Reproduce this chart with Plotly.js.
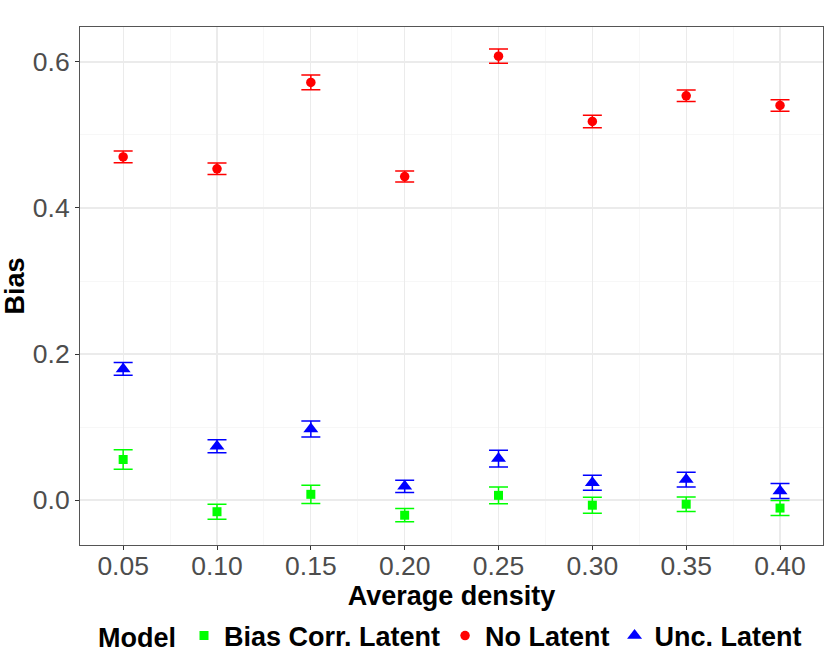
<!DOCTYPE html>
<html>
<head>
<meta charset="utf-8">
<script src="https://cdn.plot.ly/plotly-3.0.1.min.js"></script>
<style>html,body{margin:0;padding:0;background:#fff;}#chart{width:830px;height:664px;}</style>
</head>
<body>
<div id="chart"></div>
<script>
var density = [0.05, 0.10, 0.15, 0.20, 0.25, 0.30, 0.35, 0.40];
var xTickLabels = ["0.05", "0.10", "0.15", "0.20", "0.25", "0.30", "0.35", "0.40"];
var yTickVals = [0.0, 0.2, 0.4, 0.6];
var yTickLabels = ["0.0", "0.2", "0.4", "0.6"];

var biasCorrLatent = [0.0555, -0.016, 0.0078, -0.0208, 0.0064, -0.0071, -0.0057, -0.011];
var biasCorrLatentErr = [0.0132, 0.0103, 0.0126, 0.0091, 0.0116, 0.011, 0.010, 0.0103];

var noLatent = [0.470, 0.4537, 0.572, 0.443, 0.608, 0.5185, 0.5537, 0.5404];
var noLatentErr = [0.008, 0.008, 0.010, 0.0075, 0.0096, 0.0085, 0.008, 0.008];

var uncLatent = [0.1795, 0.0736, 0.0973, 0.0187, 0.0568, 0.0237, 0.028, 0.0123];
var uncLatentErr = [0.0087, 0.009, 0.011, 0.0084, 0.0114, 0.0103, 0.010, 0.0103];

var seriesNames = ["Bias Corr. Latent", "No Latent", "Unc. Latent"];

var FONT = "Liberation Sans, Arial, Helvetica, sans-serif";

function mk(name, y, err, color, symbol, size) {
  return {
    type: "scatter", mode: "markers", name: "<b>" + name + "</b>",
    x: density, y: y,
    marker: {color: color, symbol: symbol, size: size, line: {width: 0}},
    error_y: {type: "data", array: err, visible: true, color: color, thickness: 1.5, width: 9.5}
  };
}

var data = [
  mk(seriesNames[0], biasCorrLatent, biasCorrLatentErr, "#00FF00", "square", 9),
  mk(seriesNames[1], noLatent, noLatentErr, "#FF0000", "circle", 9.5),
  mk(seriesNames[2], uncLatent, uncLatentErr, "#0000FF", "triangle-up", 13)
];

var layout = {
  width: 830, height: 664,
  margin: {l: 79.5, r: 6.7, t: 26.7, b: 118.7, pad: 0, autoexpand: false},
  paper_bgcolor: "#fff", plot_bgcolor: "#fff",
  font: {family: FONT, color: "#000"},
  showlegend: true,
  xaxis: {
    range: [0.0270, 0.4229], automargin: false,
    tickvals: density, ticktext: xTickLabels,
    showgrid: true, gridcolor: "#EBEBEB", gridwidth: 1.1,
    minor: {dtick: 0.025, tick0: 0.025, showgrid: true, gridcolor: "#F2F2F2", gridwidth: 0.6, ticks: ""},
    ticks: "outside", ticklen: 4, tickcolor: "#333", tickwidth: 1,
    ticklabelstandoff: -7,
    tickfont: {family: FONT, size: 26.5, color: "#4D4D4D"},
    showline: true, linecolor: "#555", linewidth: 1, mirror: true,
    zeroline: false,
    title: {text: "<b>Average density</b>", font: {family: FONT, size: 27, color: "#000"}, standoff: 0}
  },
  yaxis: {
    range: [-0.0616, 0.6479], automargin: false,
    tickvals: yTickVals, ticktext: yTickLabels,
    showgrid: true, gridcolor: "#EBEBEB", gridwidth: 1.1,
    minor: {dtick: 0.1, tick0: 0.1, showgrid: true, gridcolor: "#F2F2F2", gridwidth: 0.6, ticks: ""},
    ticks: "outside", ticklen: 4, tickcolor: "#333", tickwidth: 1,
    tickfont: {family: FONT, size: 26.5, color: "#4D4D4D"},
    showline: true, linecolor: "#555", linewidth: 1, mirror: true,
    zeroline: false,
    title: {text: "<b>Bias</b>", font: {family: FONT, size: 27, color: "#000"}, standoff: 8}
  },
  legend: {
    orientation: "h", x: 0.5, xanchor: "center",
    yref: "container", y: 0.079, yanchor: "top",
    font: {family: FONT, size: 27, color: "#000"},
    title: {text: "<b>Model</b>", side: "left", font: {family: FONT, size: 27, color: "#000"}},
    itemwidth: 30, tracegroupgap: 0, bgcolor: "rgba(0,0,0,0)"
  }
};

Plotly.newPlot("chart", data, layout, {displayModeBar: false, staticPlot: true});
</script>
</body>
</html>
